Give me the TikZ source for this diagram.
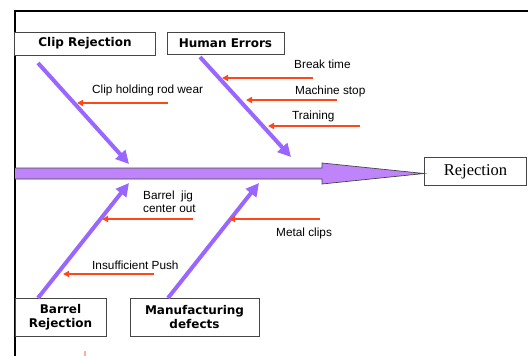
\documentclass[tikz,border=0pt]{standalone}
\usepackage{fontspec}
\newfontfamily\labfont{Liberation Sans}
\newfontfamily\boxfont{DejaVu Sans}
\newfontfamily\rejfont{Liberation Serif}
\usetikzlibrary{arrows.meta}
\definecolor{bone}{RGB}{153,102,255}
\definecolor{spine}{RGB}{192,132,250}
\definecolor{cause}{RGB}{255,72,24}
\definecolor{boxline}{RGB}{70,70,70}
\tikzset{
  catbox/.style={draw=boxline, line width=0.9pt, fill=white, inner sep=0pt, align=center,
    font=\boxfont\bfseries\fontsize{12}{14}\selectfont},
  bonearrow/.style={draw=bone, line width=4pt, -{Triangle[length=13pt,width=13pt]}, shorten >=0pt},
  causearrow/.style={draw=cause, line width=1.4pt, -{Triangle[length=6pt,width=6pt]}},
  lab/.style={font=\labfont\fontsize{11.8}{13}\selectfont, inner sep=0pt, align=left},
}
\begin{document}
\begin{tikzpicture}[x=1pt,y=-1pt]
\useasboundingbox (0,0) rectangle (528,356);
% frame
\draw[line width=2pt] (528,11) -- (15,11) -- (15,356);
% boxes
\node[catbox, minimum width=141pt, minimum height=23pt] (clip) at (85,43.5) {Clip Rejection};
\node[catbox, minimum width=117pt, minimum height=22pt] (human) at (225.5,43.5) {Human Errors};
\node[catbox, minimum width=91pt, minimum height=38pt] (barrel) at (60.5,317) {Barrel\\Rejection};
\node[catbox, minimum width=129pt, minimum height=38pt] (manu) at (194.5,317) {Manufacturing\\defects};
\node[draw=boxline, line width=0.9pt, fill=white, minimum width=102pt, minimum height=28pt, inner sep=0pt,
  font=\rejfont\fontsize{16.5}{18}\selectfont] (rej) at (475.5,171.5) {Rejection};
% spine
\coordinate (tip) at (rej.west |- 0,173.5);
\draw[draw=boxline, line width=0.7pt, fill=spine] (15,168) -- (322,168) -- (322,163) -- (tip) -- (322,184) -- (322,179) -- (15,179);
% bones
\coordinate (b1s) at (38,63);
\coordinate (b1e) at (129,164);
\coordinate (b2s) at (200,57);
\coordinate (b2e) at (291,157);
\coordinate (b3s) at (38,298);
\coordinate (b3e) at (129,183);
\coordinate (b4s) at (168,298);
\coordinate (b4e) at (259,183);
\draw[bonearrow] (b1s) -- (b1e);
\draw[bonearrow] (b2s) -- (b2e);
\draw[bonearrow] (b3s) -- (b3e);
\draw[bonearrow] (b4s) -- (b4e);
% causes
\coordinate (c1) at (168,103); \coordinate (c1e) at (77,103);
\coordinate (c2) at (313,78);  \coordinate (c2e) at (222,78);
\coordinate (c3) at (337,100); \coordinate (c3e) at (246,100);
\coordinate (c4) at (360,126); \coordinate (c4e) at (268,126);
\coordinate (c5) at (193,219); \coordinate (c5e) at (102,219);
\coordinate (c6) at (154,274); \coordinate (c6e) at (63,274);
\coordinate (c7) at (320,219); \coordinate (c7e) at (229,219);
\foreach \s/\e in {c1/c1e,c2/c2e,c3/c3e,c4/c4e,c5/c5e,c6/c6e,c7/c7e}
  \draw[causearrow] (\s) -- (\e);
% labels
\node[lab, anchor=west] (l1) at (92,90) {Clip holding rod wear};
\node[lab, anchor=west] (l2) at (294,64) {Break time};
\node[lab, anchor=west] (l3) at (295,91) {Machine stop};
\node[lab, anchor=west] (l4) at (292,116) {Training};
\node[lab, anchor=west] (l5) at (143,202) {Barrel\ \ jig\\center out};
\node[lab, anchor=west] (l6) at (92,265) {Insufficient Push};
\node[lab, anchor=west] (l7) at (276,233) {Metal clips};
% small tick
\draw[cause!45, line width=1.2pt] (85,351) -- (85,356);
\end{tikzpicture}
\end{document}
